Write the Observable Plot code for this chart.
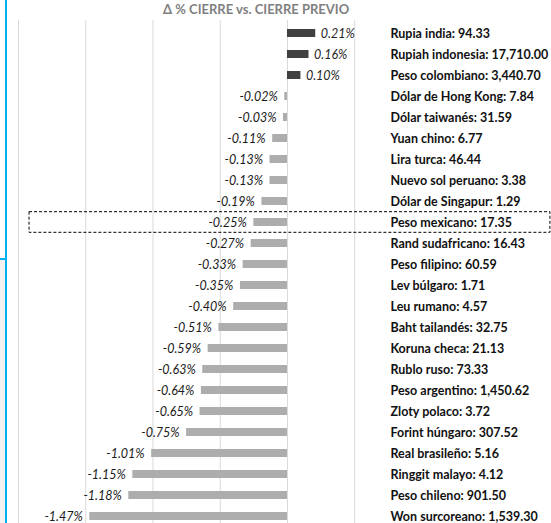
<!DOCTYPE html>
<html><head><meta charset="utf-8">
<script src="https://cdn.jsdelivr.net/npm/d3@7"></script>
<script src="https://cdn.jsdelivr.net/npm/@observablehq/plot@0.6"></script>
<style>
body{margin:0;background:#fff;}
#wrap{position:relative;width:551px;height:523px;overflow:hidden;font-family:Lato,"Open Sans",sans-serif;background:#fff;}
#title{position:absolute;top:1px;left:163px;white-space:nowrap;font-weight:bold;font-size:13px;color:#7f7f7f;z-index:2;}
#blue{position:absolute;left:5px;top:0;width:2px;height:523px;background:#00B0F0;z-index:3;}
#blueh{position:absolute;left:0;top:258px;width:7px;height:2px;background:#00B0F0;z-index:3;}
#grayfill{position:absolute;left:0;top:260px;width:5px;height:263px;background:#f2f2f2;z-index:3;}
#chart{position:absolute;left:0;top:0;}
</style>
</head><body>
<div id="wrap">
  <div id="chart"></div>
  <div id="title">Δ % CIERRE vs. CIERRE PREVIO</div>
  <div id="blue"></div><div id="blueh"></div><div id="grayfill"></div>
</div>
<script>
const currencies = ["Rupia india","Rupiah indonesia","Peso colombiano","Dólar de Hong Kong","Dólar taiwanés","Yuan chino","Lira turca","Nuevo sol peruano","Dólar de Singapur","Peso mexicano","Rand sudafricano","Peso filipino","Lev búlgaro","Leu rumano","Baht tailandés","Koruna checa","Rublo ruso","Peso argentino","Zloty polaco","Forint húngaro","Real brasileño","Ringgit malayo","Peso chileno","Won surcoreano"];
const rates = [94.33,17710.00,3440.70,7.84,31.59,6.77,46.44,3.38,1.29,17.35,16.43,60.59,1.71,4.57,32.75,21.13,73.33,1450.62,3.72,307.52,5.16,4.12,901.50,1539.30];
const changes = [0.21,0.16,0.10,-0.02,-0.03,-0.11,-0.13,-0.13,-0.19,-0.25,-0.27,-0.33,-0.35,-0.40,-0.51,-0.59,-0.63,-0.64,-0.65,-0.75,-1.01,-1.15,-1.18,-1.47];
const gridTicks = [-2,-1.5,-1,-0.5,0,0.5];
const highlighted = ["Peso mexicano"];

const fmtRate = d3.format(",.2f");
const data = currencies.map((c,i)=>({name:c, rate:rates[i], change:changes[i]}));
const labelOf = new Map(data.map(d=>[d.name, `${d.name}: ${fmtRate(d.rate)}`]));
const pct = d => d.change.toFixed(2) + "%";

const chart = Plot.plot({
  width:551, height:523,
  marginLeft:18, marginRight:161, marginTop:20, marginBottom:0,
  style:{fontFamily:"Lato, 'Open Sans', sans-serif", background:"transparent"},
  x:{domain:[-2,0.766], axis:null},
  y:{domain:currencies, range:[14.75,533.2], padding:0.64, axis:null},
  color:{type:"identity"},
  marks:[
    Plot.ruleX(gridTicks,{stroke:"#d9d9d9", strokeWidth:1}),
    Plot.barX(data,{x:"change", y:"name", fill:d=>d.change>0?"#404040":"#ADADAD"}),
    Plot.text(data.filter(d=>d.change>0),{x:"change", y:"name", text:pct, dx:5, textAnchor:"start", fontStyle:"italic", fontSize:12.5, fill:"#262626"}),
    Plot.text(data.filter(d=>d.change<=0),{x:"change", y:"name", text:pct, dx:-7, textAnchor:"end", fontStyle:"italic", fontSize:12.5, fill:"#1a1a1a"}),
    Plot.axisY({anchor:"right", label:null, tickSize:0, tickPadding:0, tickFormat:n=>labelOf.get(n), fontWeight:"bold", fontSize:12.5, fill:"#111"}),
    Plot.barX(highlighted.map(n=>({name:n})),{x1:()=>-1.918, x2:()=>1.955, y:"name", fill:"none", stroke:"#000", strokeWidth:1, strokeDasharray:"3,2", insetTop:-6.3, insetBottom:-6.3})
  ]
});
document.getElementById("chart").appendChild(chart);
</script>
</body></html>
